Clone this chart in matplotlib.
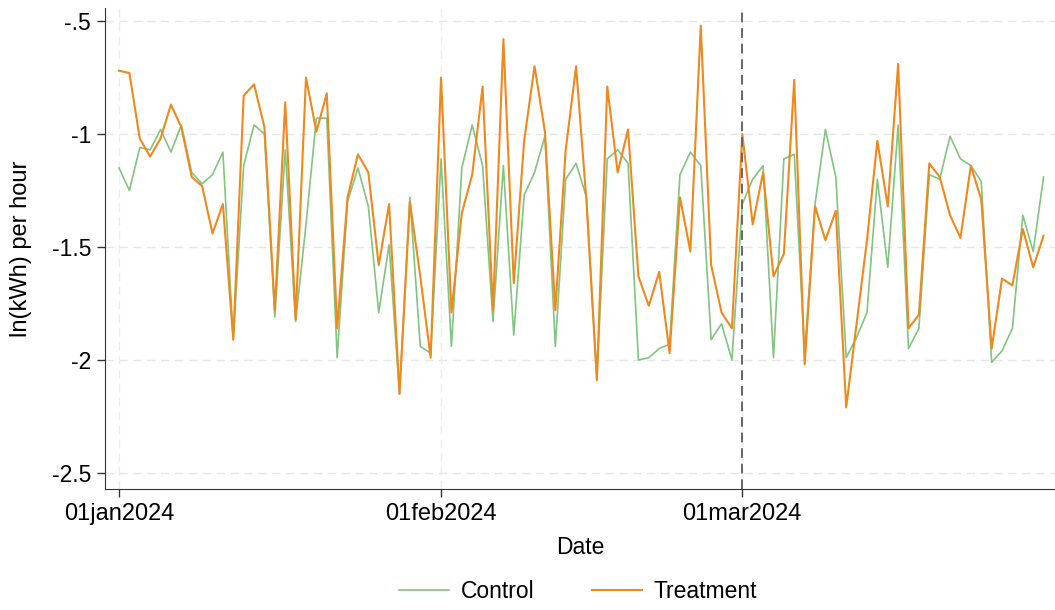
import pandas as pd
import matplotlib
matplotlib.use("Agg")
import matplotlib.pyplot as plt

plt.rcParams['font.family'] = ['Liberation Sans', 'DejaVu Sans']

# daily values, 01jan2024 .. 30mar2024
dates = pd.date_range("2024-01-01", periods=90, freq="D")

control = [
    -1.15, -1.25, -1.06, -1.07, -0.98, -1.08, -0.96, -1.17, -1.22, -1.18,
    -1.08, -1.91, -1.14, -0.96, -1.00, -1.81, -1.07, -1.83, -1.40, -0.93,
    -0.93, -1.99, -1.30, -1.15, -1.32, -1.79, -1.49, -2.15, -1.28, -1.94,
    -1.97, -1.11, -1.94, -1.15, -0.96, -1.14, -1.83, -1.14, -1.89, -1.27,
    -1.17, -1.01, -1.94, -1.20, -1.13, -1.28, -2.08, -1.11, -1.07, -1.13,
    -2.00, -1.99, -1.95, -1.93, -1.18, -1.08, -1.14, -1.91, -1.84, -2.00,
    -1.31, -1.20, -1.14, -1.99, -1.11, -1.09, -1.97, -1.31, -0.98, -1.19,
    -1.99, -1.90, -1.79, -1.20, -1.59, -0.96, -1.95, -1.86, -1.18, -1.20,
    -1.01, -1.11, -1.14, -1.21, -2.01, -1.96, -1.86, -1.36, -1.52, -1.19,
]

treatment = [
    -0.72, -0.73, -1.02, -1.10, -1.02, -0.87, -0.97, -1.19, -1.23, -1.44,
    -1.31, -1.91, -0.83, -0.78, -0.97, -1.78, -0.86, -1.82, -0.75, -0.99,
    -0.82, -1.86, -1.28, -1.09, -1.17, -1.58, -1.31, -2.15, -1.30, -1.63,
    -1.99, -0.75, -1.79, -1.35, -1.18, -0.79, -1.78, -0.58, -1.66, -1.03,
    -0.70, -0.99, -1.78, -1.07, -0.70, -1.30, -2.09, -0.79, -1.17, -0.98,
    -1.63, -1.76, -1.61, -1.97, -1.28, -1.52, -0.52, -1.58, -1.79, -1.86,
    -1.00, -1.40, -1.17, -1.63, -1.53, -0.76, -2.02, -1.32, -1.47, -1.34,
    -2.21, -1.84, -1.47, -1.03, -1.32, -0.69, -1.86, -1.80, -1.13, -1.19,
    -1.36, -1.46, -1.14, -1.29, -1.95, -1.64, -1.67, -1.42, -1.59, -1.45,
]

tick_dates = pd.to_datetime(["2024-01-01", "2024-02-01", "2024-03-01"])
tick_labels = ["01jan2024", "01feb2024", "01mar2024"]
y_ticks = [-0.5, -1, -1.5, -2, -2.5]
y_labels = ["-.5", "-1", "-1.5", "-2", "-2.5"]
event_date = pd.Timestamp("2024-03-01")

fig = plt.figure(figsize=(10.55, 6.1), dpi=100)
ax = fig.add_axes([0.0995, 0.1984, 0.9005, 0.7886])

# grid first so lines sit on top
for y in y_ticks:
    ax.axhline(y, color="#e6e6e6", lw=1, ls=(0, (6, 4)), zorder=0)
for d in tick_dates:
    ax.axvline(d, color="#ececec", lw=1, ls=(0, (6, 4)), zorder=0)

ax.plot(dates, control, color="#82c480", lw=1.2, label="Control", zorder=3)
ax.plot(dates, treatment, color="#ec8a1e", lw=1.5, label="Treatment", zorder=4)

# treatment start
ax.axvline(event_date, color="#666666", lw=1.4, ls=(0, (5, 3)), zorder=5)

ax.set_xlim(dates[0] - pd.Timedelta(days=1.35), dates[0] + pd.Timedelta(days=90.1))
ax.set_ylim(-2.571, -0.442)

ax.set_xticks(tick_dates)
ax.set_xticklabels(tick_labels, fontsize=17)
ax.set_yticks(y_ticks)
ax.set_yticklabels(y_labels, fontsize=16.5)
ax.tick_params(length=6, width=1, color="#333333", pad=4)

ax.spines["top"].set_visible(False)
ax.spines["right"].set_visible(False)
ax.spines["left"].set_color("#333333")
ax.spines["bottom"].set_color("#333333")

ax.set_xlabel("Date", fontsize=16.5, labelpad=8)
ax.set_ylabel("ln(kWh) per hour", fontsize=17, labelpad=14)

fig.legend(loc="center", bbox_to_anchor=(0.548, 1 - 592 / 610), ncol=2,
           frameon=False, fontsize=16.5, handlelength=2.2, handletextpad=0.5,
           columnspacing=2.5)

fig.savefig("out.png", dpi=100)
